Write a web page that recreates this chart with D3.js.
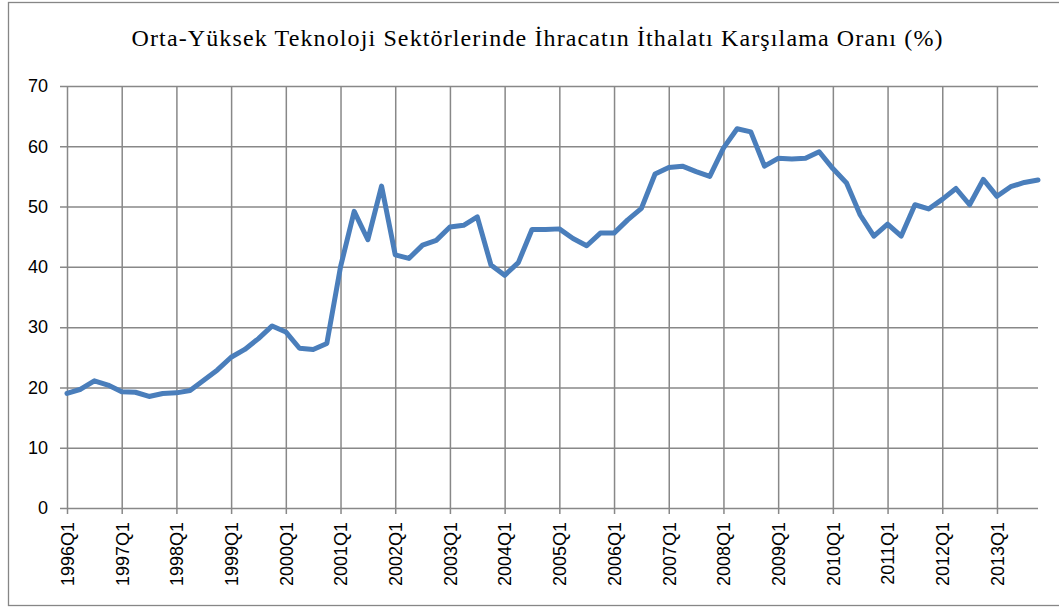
<!DOCTYPE html>
<html>
<head>
<meta charset="utf-8">
<script src="https://cdn.jsdelivr.net/npm/d3@7"></script>
<style>
  body { margin: 0; background: #fff; }
  .axis text { font-family: "Liberation Sans", Arial, sans-serif; font-size: 18px; fill: #000; }
</style>
</head>
<body>
<div id="chart"></div>
<script>
// chart size
var svgWidth = 1059;
var svgHeight = 607;

var margin = { top: 86, right: 21, bottom: 99, left: 67 };
var width = 1038 - margin.left;
var height = 508 - margin.top;

// data
var years = d3.range(1996, 2014);
var quarters = [];
years.forEach(function (y) {
  [1, 2, 3, 4].forEach(function (q) { quarters.push(y + "Q" + q); });
});

var ratio = [
  19.0, 19.7, 21.1, 20.4, 19.3, 19.2, 18.5, 19.0,
  19.1, 19.5, 21.2, 22.9, 25.0, 26.3, 28.1, 30.2,
  29.2, 26.5, 26.3, 27.3, 40.0, 49.2, 44.5, 53.4,
  42.0, 41.4, 43.6, 44.4, 46.6, 46.9, 48.3, 40.3,
  38.6, 40.7, 46.2, 46.2, 46.3, 44.7, 43.5, 45.6,
  45.6, 47.8, 49.7, 55.4, 56.5, 56.7, 55.8, 55.0,
  59.7, 62.9, 62.4, 56.7, 58.0, 57.9, 58.0, 59.1,
  56.3, 53.9, 48.6, 45.1, 47.1, 45.1, 50.3, 49.6,
  51.2, 53.0, 50.3, 54.5, 51.7, 53.3, 54.0, 54.4
];

var yTicks = [0, 10, 20, 30, 40, 50, 60, 70];
var yearTicks = quarters.filter(function (q) { return q.slice(-2) === "Q1"; });

var svg = d3.select("#chart")
  .append("svg")
  .attr("width", svgWidth)
  .attr("height", svgHeight);

// outer frame
svg.append("rect")
  .attr("x", 8.5)
  .attr("y", 2.5)
  .attr("width", 1060)
  .attr("height", 603)
  .attr("fill", "none")
  .attr("stroke", "#868686")
  .attr("stroke-width", 1.3);

// title
svg.append("text")
  .attr("x", 537)
  .attr("y", 46)
  .attr("text-anchor", "middle")
  .attr("font-family", "'Liberation Serif', 'Times New Roman', serif")
  .attr("font-size", 24)
  .attr("textLength", 811)
  .attr("lengthAdjust", "spacing")
  .attr("fill", "#000")
  .text("Orta-Yüksek Teknoloji Sektörlerinde İhracatın İthalatı Karşılama Oranı (%)");

var chartGroup = svg.append("g")
  .attr("transform", `translate(${margin.left}, ${margin.top})`);

// scales
var xScale = d3.scalePoint()
  .domain(quarters)
  .range([0, width]);

var yScale = d3.scaleLinear()
  .domain([0, 70])
  .range([height, 0]);

// horizontal gridlines + y labels
var leftAxis = d3.axisLeft(yScale)
  .tickValues(yTicks)
  .tickSize(-width)
  .tickPadding(19);

var yAxisG = chartGroup.append("g")
  .attr("class", "axis")
  .call(leftAxis);
yAxisG.select(".domain").remove();
yAxisG.selectAll(".tick line")
  .attr("x1", -7)
  .attr("stroke", "#888")
  .attr("stroke-width", 1.5);

// vertical gridlines + x labels
var bottomAxis = d3.axisBottom(xScale)
  .tickValues(yearTicks)
  .tickSize(0);

var xAxisG = chartGroup.append("g")
  .attr("class", "axis")
  .attr("transform", `translate(0, ${height})`)
  .call(bottomAxis);
xAxisG.select(".domain").remove();
xAxisG.selectAll(".tick line")
  .attr("y1", -height)
  .attr("y2", 6)
  .attr("stroke", "#888")
  .attr("stroke-width", 1.5);
xAxisG.selectAll(".tick text")
  .attr("transform", "rotate(-90)")
  .attr("text-anchor", "end")
  .attr("x", -14)
  .attr("y", 0)
  .attr("dy", "0.35em");

// line
var line = d3.line()
  .x(function (d, i) { return xScale(quarters[i]); })
  .y(function (d) { return yScale(d); });

chartGroup.append("path")
  .datum(ratio)
  .attr("d", line)
  .attr("fill", "none")
  .attr("stroke", "#4a7ebb")
  .attr("stroke-width", 5)
  .attr("stroke-linejoin", "round")
  .attr("stroke-linecap", "round");
</script>
</body>
</html>
